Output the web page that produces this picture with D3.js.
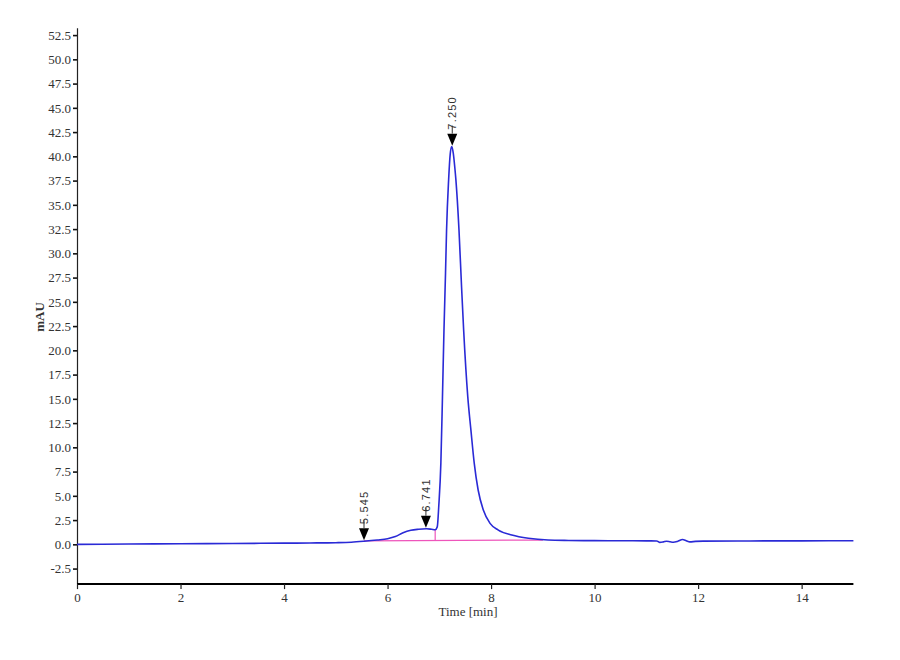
<!DOCTYPE html>
<html>
<head>
<meta charset="utf-8">
<script src="https://cdn.jsdelivr.net/npm/d3@7"></script>
<style>
  body { margin: 0; background: #fff; }
  .tick text { font-family: "Liberation Serif", "Times New Roman", serif; font-size: 13px; fill: #333; }
</style>
</head>
<body>
<svg id="chart" width="900" height="660"></svg>
<script>
// chromatogram trace, retention time in minutes vs mAU
var times = [0, 1, 2, 3, 4, 4.5, 5, 5.3, 5.545, 5.8, 6.0, 6.15, 6.3, 6.45, 6.6, 6.75, 6.85, 6.92,
  6.96, 6.99, 7.03, 7.06, 7.09, 7.12, 7.14, 7.18, 7.21, 7.24, 7.27, 7.30, 7.32, 7.38, 7.43, 7.47,
  7.55, 7.61, 7.675, 7.75, 7.85, 7.98, 8.14, 8.4, 8.72, 9.1, 9.5, 10, 10.5, 11,
  11.2, 11.26, 11.33, 11.39, 11.46, 11.52, 11.6, 11.7, 11.77, 11.84, 11.95, 12.1, 13, 14, 15];
var mAU = [0, 0.03, 0.06, 0.09, 0.12, 0.14, 0.17, 0.22, 0.32, 0.45, 0.58, 0.8, 1.2, 1.45, 1.55, 1.6, 1.55, 1.5,
  1.8, 4.0, 8.4, 15, 22.1, 28, 32.4, 37.6, 40.2, 41.0, 40.3, 38.8, 37.6, 32.4, 26.5, 22.1,
  15.2, 11.8, 8.35, 5.6, 3.54, 2.16, 1.47, 0.96, 0.62, 0.44, 0.4, 0.38, 0.37, 0.36,
  0.35, 0.2, 0.25, 0.32, 0.26, 0.22, 0.3, 0.5, 0.38, 0.25, 0.3, 0.33, 0.35, 0.36, 0.37];

// integration baseline and drop line
var baseTimes = [5.545, 9.0];
var baseValues = [0.36, 0.44];
var dropTime = 6.92;
var dropTop = 1.5;

// peak markers
var peakTimes = [5.545, 6.741, 7.250];
var peakHeights = [0.33, 1.6, 41.0];
var peakLabels = ["5.545", "6.741", "7.250"];

var xTicks = [0, 2, 4, 6, 8, 10, 12, 14];
var yTicks = d3.range(-2.5, 52.6, 2.5);

var svg = d3.select('#chart');
var plotL = 77, plotR = 853.4, plotT = 28.3, plotB = 584.1;

var x = d3.scaleLinear().domain([0, 15]).range([plotL, plotR]);
var y = d3.scaleLinear().domain([-4.1, 53.2]).range([plotB, plotT]);

var fmtY = function(d){ return d.toFixed(1); };

// y axis
var gy = svg.append('g').attr('transform', 'translate(' + plotL + ',0)')
  .call(d3.axisLeft(y).tickValues(yTicks).tickFormat(fmtY).tickSize(4).tickPadding(2));
gy.select('.domain').attr('stroke', '#222').attr('stroke-width', 1.2).attr('d', 'M0.5,' + plotT + 'V' + plotB);
gy.selectAll('.tick line').attr('stroke', '#111').attr('stroke-width', 1.6);

// x axis
var gx = svg.append('g').attr('transform', 'translate(0,' + plotB + ')')
  .call(d3.axisBottom(x).tickValues(xTicks).tickFormat(d3.format('d')).tickSize(5).tickPadding(4));
gx.select('.domain').attr('stroke', '#000').attr('stroke-width', 2).attr('d', 'M' + plotL + ',0H' + plotR);
gx.selectAll('.tick line').attr('stroke', '#222').attr('stroke-width', 1.2);

// axis titles
svg.append('text')
  .attr('transform', 'translate(44,317) rotate(-90)')
  .attr('text-anchor', 'middle')
  .style('font-family', '"Liberation Serif", serif').style('font-size', '13px').style('font-weight', 'bold')
  .style('fill', '#333')
  .text('mAU');
svg.append('text')
  .attr('x', 468).attr('y', 616)
  .attr('text-anchor', 'middle')
  .style('font-family', '"Liberation Serif", serif').style('font-size', '13px')
  .style('fill', '#333')
  .text('Time [min]');

// baseline (pink)
var pts = times.map(function(t, i){ return {t: t, v: mAU[i]}; });
svg.append('line')
  .attr('x1', x(baseTimes[0])).attr('y1', y(baseValues[0]))
  .attr('x2', x(baseTimes[1])).attr('y2', y(baseValues[1]))
  .attr('stroke', '#ee55bb').attr('stroke-width', 1.2);
var dropBase = baseValues[0] + (baseValues[1] - baseValues[0]) * (dropTime - baseTimes[0]) / (baseTimes[1] - baseTimes[0]);
svg.append('line')
  .attr('x1', x(dropTime)).attr('y1', y(dropBase))
  .attr('x2', x(dropTime)).attr('y2', y(dropTop))
  .attr('stroke', '#ee55bb').attr('stroke-width', 1.2);

// trace
var line = d3.line().curve(d3.curveMonotoneX)
  .x(function(d){ return x(d.t); })
  .y(function(d){ return y(d.v); });
svg.append('path').datum(pts)
  .attr('d', line)
  .attr('fill', 'none')
  .attr('stroke', '#2a2ad6')
  .attr('stroke-width', 1.6);

// peak markers
var marks = svg.selectAll('g.peak').data(peakTimes).enter().append('g').attr('class', 'peak')
  .attr('transform', function(d, i){ return 'translate(' + x(d) + ',' + (y(peakHeights[i]) - 1) + ')'; });
marks.append('path').attr('d', 'M0,0L-5,-12L5,-12Z').attr('fill', '#000');
marks.append('line').attr('x1', 0).attr('x2', 0).attr('y1', -12).attr('y2', -20)
  .attr('stroke', '#333').attr('stroke-width', 1);
marks.append('text')
  .attr('transform', 'translate(4,-16) rotate(-90)')
  .attr('text-anchor', 'start')
  .style('font-family', '"Liberation Sans", Arial, sans-serif').style('font-size', '11px')
  .style('letter-spacing', '1.2px').style('fill', '#333')
  .text(function(d, i){ return peakLabels[i]; });
</script>
</body>
</html>
